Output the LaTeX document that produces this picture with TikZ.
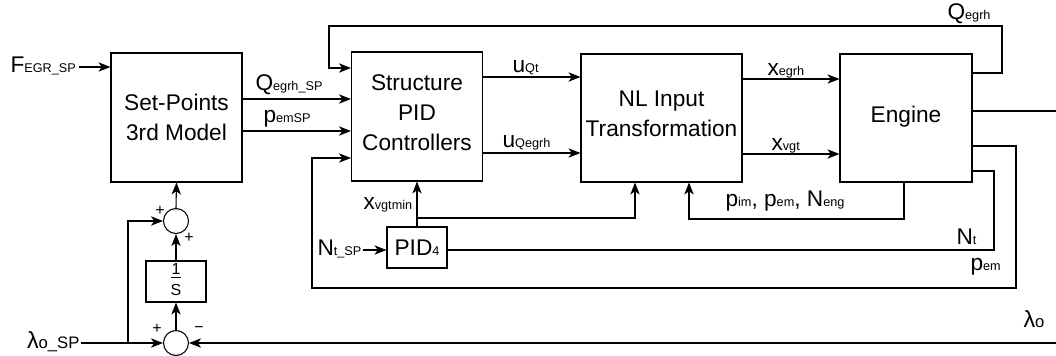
\documentclass[tikz,border=0pt]{standalone}
\usepackage{fontspec}
\setmainfont{Liberation Sans}
\usetikzlibrary{arrows.meta}
\newcommand\sbs[1]{{\fontsize{9.5}{10}\selectfont #1}}
\newcommand\sbm[1]{{\fontsize{12.5}{13}\selectfont #1}}
\begin{document}
\begin{tikzpicture}[x=0.75pt,y=-0.75pt,
  line width=0.8pt,
  arr/.style={-{Stealth[length=9pt,width=7pt,inset=2.5pt]}},
  blk/.style={draw, rectangle, inner sep=0pt, align=center, font=\fontsize{17}{22.5}\selectfont},
  sum/.style={draw, circle, minimum size=18.75pt, inner sep=0pt},
  lbl/.style={inner sep=0pt, anchor=base west, font=\fontsize{17}{20}\selectfont},
  sgn/.style={inner sep=0pt, font=\fontsize{12}{12}\selectfont}]
\useasboundingbox (0,0) rectangle (1056,355);

% blocks
\node[blk, minimum width=98.25pt, minimum height=96.75pt] (sp) at (176.5,117.5) {Set-Points\\3rd Model};
\node[blk, minimum width=98.25pt, minimum height=96.75pt, text depth=6pt] (pid) at (417,116.5) {Structure\\PID\\Controllers};
\node[blk, minimum width=120.75pt, minimum height=96pt, text depth=6pt] (nl) at (661.5,118) {NL Input\\Transformation};
\node[blk, minimum width=99pt, minimum height=96pt, text depth=6pt] (eng) at (906,118) {Engine};
\node[blk, minimum width=45pt, minimum height=30.75pt] (pid4) at (417,247.5) {PID\sbs{4}};
\node[blk, minimum width=45pt, minimum height=30.75pt, font=\fontsize{12}{12}\selectfont] (int) at (176,281.5)
  {\begin{tabular}{@{}c@{}}1\\[-9pt]\rule{8pt}{0.8pt}\\[0.5pt]S\end{tabular}};
\node[sum] (s1) at (176,221) {};
\node[sum] (s2) at (176,343) {};

% free ends
\coordinate (fin) at (79,67);
\coordinate (nin) at (363,250);
\coordinate (lin) at (81,343);
\coordinate (lbr) at (128,343);
\coordinate (xbr) at (417,218);
\coordinate (eout) at (1056,111);
\coordinate (lfb) at (1056,343);

% labels
\node[lbl] (lF) at (10,72) {F\sbs{EGR\_SP}};
\node[lbl, anchor=base east, font=\fontsize{17.5}{18}\selectfont] (lL) at (80,348) {λ\sbm{o\_SP}};
\node[lbl] (lQsp) at (255,90) {Q\sbs{egrh\_SP}};
\node[lbl] (lpsp) at (263,122) {p\sbs{emSP}};
\node[lbl] (luq) at (512,72) {u\sbs{Qt}};
\node[lbl] (luqe) at (502,147) {u\sbs{Qegrh}};
\node[lbl] (lxe) at (767,75) {x\sbs{egrh}};
\node[lbl] (lxv) at (771,150) {x\sbs{vgt}};
\node[lbl] (lQ) at (947,19) {Q\sbs{egrh}};
\node[lbl] (lxm) at (363,209) {x\sbs{vgtmin}};
\node[lbl] (lN) at (317,255) {N\sbs{t\_SP}};
\node[lbl] (lpim) at (725,206) {p\sbs{im}, p\sbs{em}, N\sbs{eng}};
\node[lbl] (lNt) at (956,244) {N\sbs{t}};
\node[lbl] (lpem) at (970,270) {p\sbs{em}};
\node[lbl, font=\fontsize{17.5}{18}\selectfont] (llo) at (1023,327) {λ\sbm{o}};

% signs
\node[sgn] (g1) at (160,211) {+};
\node[sgn] (g2) at (189,238) {+};
\node[sgn] (g3) at (157,329) {+};
\node[sgn] (g4) at (199,330) {−};

% connectors
\draw[arr] (fin) -- (sp.west |- fin);
\draw[arr] (sp.east |- 0,99) -- (pid.west |- 0,99);
\draw[arr] (sp.east |- 0,131) -- (pid.west |- 0,131);
\draw[arr] (pid.east |- 0,77) -- (nl.west |- 0,77);
\draw[arr] (pid.east |- 0,153) -- (nl.west |- 0,153);
\draw[arr] (nl.east |- 0,79) -- (eng.west |- 0,79);
\draw[arr] (nl.east |- 0,154) -- (eng.west |- 0,154);
\draw (eng.east |- eout) -- (eout);
\draw[arr] (eng.east |- 0,73) -- (1002,73) -- (1002,26) -- (329,26) -- (329,68) -- (pid.west |- 0,68);
\draw[arr] (eng.east |- 0,146) -- (1016,146) -- (1016,288) -- (312,288) -- (312,158) -- (pid.west |- 0,158);
\draw (eng.east |- 0,171) -- (994,171) -- (994,250) -- (pid4.east |- 0,250);
\draw[arr] (eng.south -| 904,0) -- (904,219) -- (689,219) -- (nl.south -| 689,0);
\draw[arr] (pid4.north) -- (pid.south);
\draw[arr] (xbr) -| (nl.south -| 635,0);
\draw[arr] (nin) -- (pid4.west |- nin);
\draw[arr] (lin) -- (s2.west);
\draw[arr] (lbr) |- (s1.west);
\draw[arr] (lfb) -- (s2.east);
\draw[arr] (s2.north) -- (int.south);
\draw[arr] (int.north) -- (s1.south);
\draw[arr] (s1.north) -- (sp.south);
\end{tikzpicture}
\end{document}
